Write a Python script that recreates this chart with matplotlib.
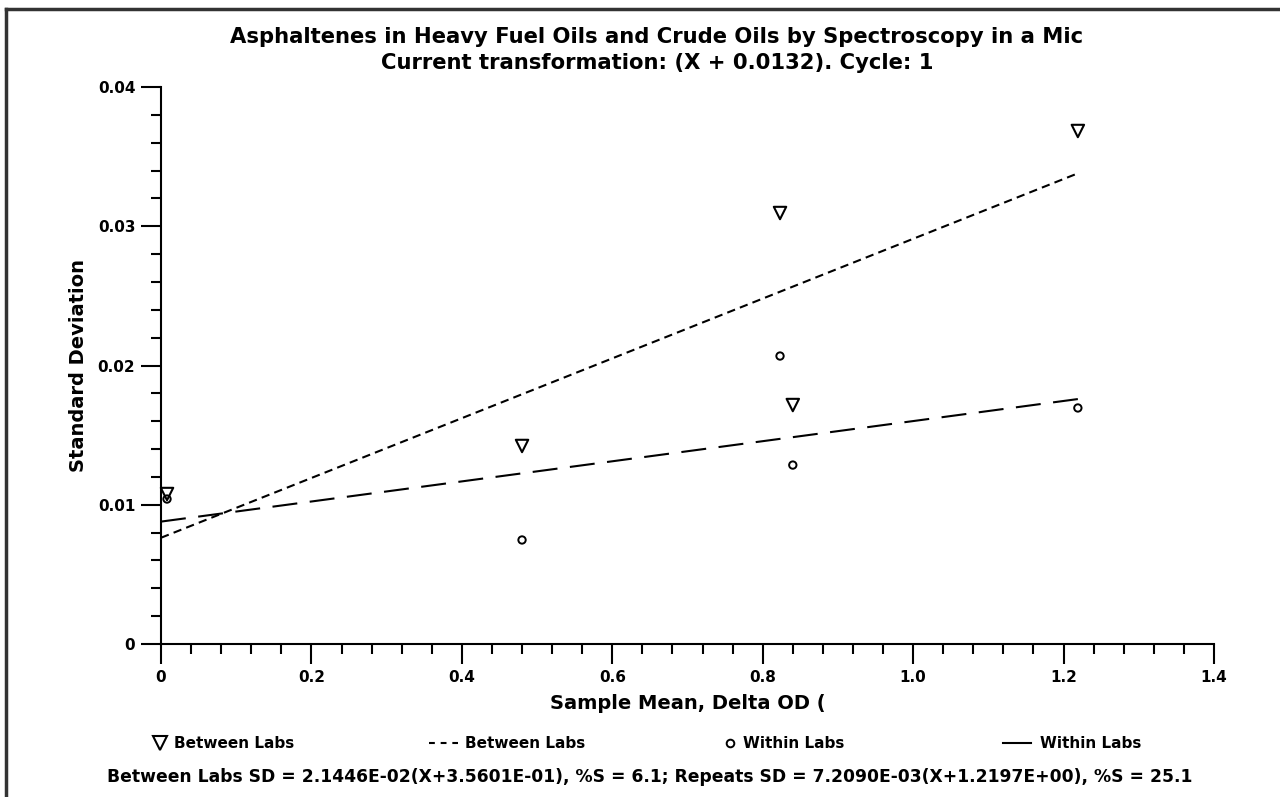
import matplotlib
matplotlib.use("Agg")
import matplotlib.pyplot as plt
from matplotlib.lines import Line2D
from matplotlib.ticker import MultipleLocator, FixedLocator

plt.rcParams['font.family'] = ['DejaVu Sans']
plt.rcParams['font.weight'] = 'bold'

# Data
between_x = [0.008, 0.480, 0.823, 0.840, 1.219]
between_y = [0.01077, 0.01422, 0.03095, 0.01716, 0.03684]
within_x = [0.008, 0.480, 0.823, 0.840, 1.219]
within_y = [0.01041, 0.00747, 0.02068, 0.01285, 0.01695]
fit_x = [0.0, 1.219]
between_fit_y = [0.00763, 0.0338]
within_fit_y = [0.00879, 0.01759]

x_ticks = [0, 0.2, 0.4, 0.6, 0.8, 1.0, 1.2, 1.4]
x_ticklabels = ['0', '0.2', '0.4', '0.6', '0.8', '1.0', '1.2', '1.4']
y_ticks = [0, 0.01, 0.02, 0.03, 0.04]
y_ticklabels = ['0', '0.01', '0.02', '0.03', '0.04']

title1 = "Asphaltenes in Heavy Fuel Oils and Crude Oils by Spectroscopy in a Mic"
title2 = "Current transformation: (X + 0.0132). Cycle: 1"
xlabel = "Sample Mean, Delta OD ("
ylabel = "Standard Deviation"
footer = ("Between Labs SD = 2.1446E-02(X+3.5601E-01), %S = 6.1; "
          "Repeats SD = 7.2090E-03(X+1.2197E+00), %S = 25.1")

W, H = 1280, 797
fig = plt.figure(figsize=(W / 100, H / 100), dpi=100)
ax = fig.add_axes([161 / W, 1 - 644 / H, (1214 - 161) / W, (644 - 87) / H])
ax.set_xlim(0, 1.4)
ax.set_ylim(0, 0.04)

ax.plot(fit_x, between_fit_y, color='black', lw=1.5, linestyle=(0, (4, 2.5)))
ax.plot(fit_x, within_fit_y, color='black', lw=1.5, linestyle=(0, (12, 6)))
ax.scatter(between_x, between_y, marker='v', s=80, facecolors='none',
           edgecolors='black', linewidths=1.5, clip_on=False, zorder=3)
ax.scatter(within_x, within_y, marker='o', s=28, facecolors='none',
           edgecolors='black', linewidths=1.4, clip_on=False, zorder=3)

for s in ['top', 'right']:
    ax.spines[s].set_visible(False)
for s in ['left', 'bottom']:
    ax.spines[s].set_linewidth(1.5)

ax.xaxis.set_major_locator(FixedLocator(x_ticks))
ax.set_xticklabels(x_ticklabels)
ax.yaxis.set_major_locator(FixedLocator(y_ticks))
ax.set_yticklabels(y_ticklabels)
ax.xaxis.set_minor_locator(MultipleLocator(0.04))
ax.yaxis.set_minor_locator(MultipleLocator(0.002))
ax.tick_params(which='major', direction='out', length=14.5, width=1.5, labelsize=11)
ax.tick_params(axis='y', which='major', pad=4)
ax.tick_params(axis='x', which='major', pad=4.5)
ax.tick_params(which='minor', direction='out', length=7.5, width=1.5)
for lab in ax.get_xticklabels() + ax.get_yticklabels():
    lab.set_fontweight('bold')

ax.set_xlabel(xlabel, fontsize=14, fontweight='bold', labelpad=6.5)
ax.set_ylabel(ylabel, fontsize=14, fontweight='bold', labelpad=7)

fig.text(657 / W, 1 - 37 / H, title1, ha='center', va='center', fontsize=15.2, fontweight='bold')
fig.text(657 / W, 1 - 63 / H, title2, ha='center', va='center', fontsize=15.2, fontweight='bold')

# Legend row (manual)
ly = 1 - 743 / H
fig.lines.append(Line2D([160 / W], [ly], marker='v', markersize=10, markerfacecolor='none',
                        markeredgecolor='black', markeredgewidth=1.5, transform=fig.transFigure))
fig.text(174 / W, ly, "Between Labs", ha='left', va='center', fontsize=11, fontweight='bold')
fig.lines.append(Line2D([429 / W, 458 / W], [ly, ly], color='black', lw=1.5,
                        linestyle=(0, (2.8, 2.8)), transform=fig.transFigure))
fig.text(465 / W, ly, "Between Labs", ha='left', va='center', fontsize=11, fontweight='bold')
fig.lines.append(Line2D([730 / W], [ly], marker='o', markersize=5.5, markerfacecolor='none',
                        markeredgecolor='black', markeredgewidth=1.4, transform=fig.transFigure))
fig.text(743 / W, ly, "Within Labs", ha='left', va='center', fontsize=11, fontweight='bold')
fig.lines.append(Line2D([1003 / W, 1031 / W], [ly, ly], color='black', lw=1.5,
                        transform=fig.transFigure))
fig.text(1040 / W, ly, "Within Labs", ha='left', va='center', fontsize=11, fontweight='bold')

fig.text(650 / W, 1 - 777 / H, footer, ha='center', va='center', fontsize=12.3, fontweight='bold')

# Outer frame (top and left edges visible)
fig.lines.append(Line2D([6 / W, 1.0], [1 - 9 / H, 1 - 9 / H], color='#333333', lw=2.5,
                        transform=fig.transFigure))
fig.lines.append(Line2D([6 / W, 6 / W], [0, 1 - 9 / H], color='#333333', lw=2.5,
                        transform=fig.transFigure))

fig.savefig('out.png', dpi=100)
